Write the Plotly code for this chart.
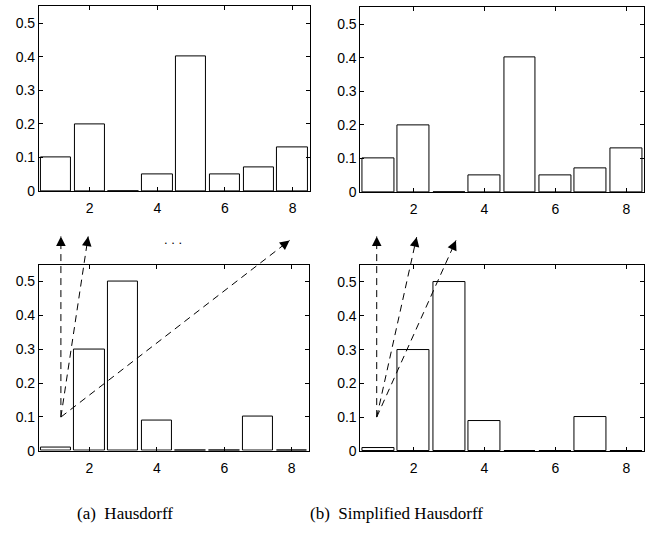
import plotly.graph_objects as go

# ---- data ----
bins = [1, 2, 3, 4, 5, 6, 7, 8]
top_hist = [0.10, 0.20, 0.0, 0.05, 0.40, 0.05, 0.07, 0.13]
bottom_hist = [0.01, 0.30, 0.50, 0.09, 0.0, 0.0, 0.10, 0.0]
x_ticks = [2, 4, 6, 8]
y_ticks = [0, 0.1, 0.2, 0.3, 0.4, 0.5]
captions = ["(a)\u00a0\u00a0Hausdorff", "(b)\u00a0\u00a0Simplified Hausdorff"]

W, H = 645, 544

# arrow geometry in pixels (annotation layout, not data marks)
arrows_a = {"origin": (61, 423.3), "heads": [(61, 240), (88.3, 240), (290, 244)]}
arrows_b = {"origin": (377.3, 423.3), "heads": [(377.3, 240), (417.3, 240.7), (456.7, 244)]}

def px(x):
    return x / W

def py(y):
    return 1 - y / H

fig = go.Figure()

panels = [
    ("x", "y", top_hist, [39, 310], [6.5, 194]),
    ("x2", "y2", top_hist, [361, 645], [7.5, 195]),
    ("x3", "y3", bottom_hist, [39, 309], [268.5, 457.5]),
    ("x4", "y4", bottom_hist, [361, 645], [269, 458]),
]

axis_common = dict(
    showgrid=False, zeroline=False, showline=True, linecolor="black", linewidth=1,
    mirror="ticks", ticks="inside", ticklen=4, tickcolor="black", tickwidth=1,
    tickfont=dict(family="Liberation Sans, Arial, sans-serif", size=14, color="black"),
)

for i, (xa, ya, vals, xd, yd) in enumerate(panels):
    fig.add_trace(go.Bar(
        x=bins, y=vals, width=0.9, xaxis=xa, yaxis=ya,
        marker=dict(color="white", line=dict(color="black", width=1)),
        showlegend=False,
    ))
    xname = "xaxis" if i == 0 else f"xaxis{i+1}"
    yname = "yaxis" if i == 0 else f"yaxis{i+1}"
    fig.layout[xname] = dict(
        domain=[px(xd[0]), px(xd[1])], range=[0.5, 8.5], anchor=ya,
        tickmode="array", tickvals=x_ticks, ticklabelstandoff=4, **axis_common,
    )
    fig.layout[yname] = dict(
        domain=[py(yd[1]), py(yd[0])], range=[0, 0.55], anchor=xa,
        tickmode="array", tickvals=y_ticks, **axis_common,
    )

shapes = []
annotations = []
for arr in (arrows_a, arrows_b):
    ox, oy = arr["origin"]
    for hx, hy in arr["heads"]:
        shapes.append(dict(
            type="line", xref="paper", yref="paper",
            x0=px(ox), y0=py(oy), x1=px(hx), y1=py(hy),
            line=dict(color="black", width=1, dash="7px,5px"),
        ))
        dx, dy = ox - hx, oy - hy
        L = (dx * dx + dy * dy) ** 0.5
        annotations.append(dict(
            x=px(hx), y=py(hy), xref="paper", yref="paper",
            ax=dx / L * 10, ay=dy / L * 10, text="",
            showarrow=True, arrowhead=2, arrowsize=1.6, arrowwidth=1.2,
            arrowcolor="black",
        ))

annotations.append(dict(
    x=px(173), y=py(243), xref="paper", yref="paper", text=". . .",
    xanchor="center", yanchor="middle",
    showarrow=False, font=dict(family="Liberation Sans, Arial", size=13, color="black"),
))
annotations.append(dict(
    x=px(125), y=py(521), xref="paper", yref="paper", text=captions[0],
    xanchor="center", yanchor="middle",
    showarrow=False, font=dict(family="Liberation Serif, Times New Roman, serif", size=17, color="black"),
))
annotations.append(dict(
    x=px(397), y=py(521), xref="paper", yref="paper", text=captions[1],
    xanchor="center", yanchor="middle",
    showarrow=False, font=dict(family="Liberation Serif, Times New Roman, serif", size=17, color="black"),
))

fig.update_layout(
    width=W, height=H, margin=dict(l=0, r=0, t=0, b=0),
    paper_bgcolor="white", plot_bgcolor="white",
    shapes=shapes, annotations=annotations, bargap=0,
)

fig.write_html("out.html")
